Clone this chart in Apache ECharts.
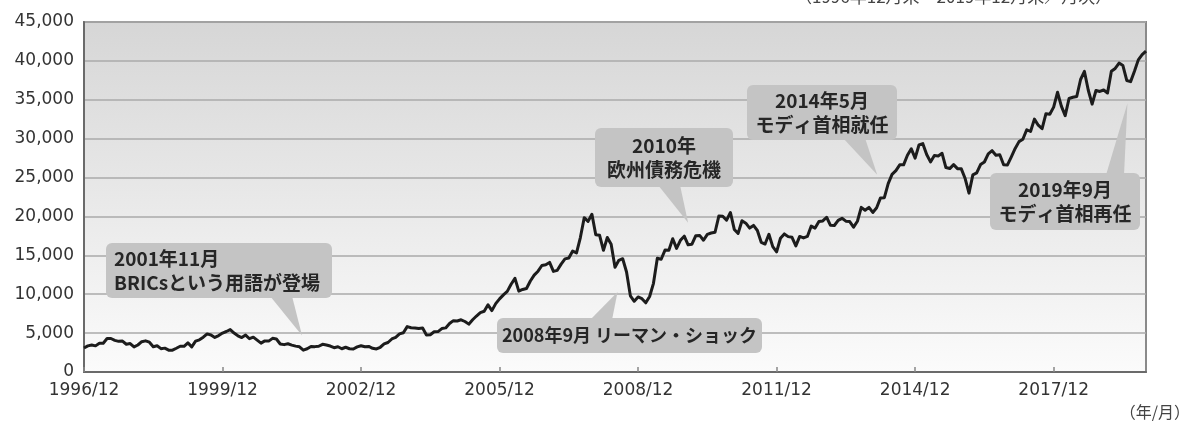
<!DOCTYPE html>
<html>
<head>
<meta charset="utf-8">
<script src="https://cdn.jsdelivr.net/npm/echarts@6/dist/echarts.min.js"></script>
<style>
html,body{margin:0;padding:0;background:#fff;}
#c{width:1193px;height:424px;}
</style>
</head>
<body>
<div id="c"></div>
<script>
// ---- Data (SENSEX month-end) ----
const startYear = 1996, startMonth = 12, endYear = 2019, endMonth = 12;
const v1996 = [3085];
const v1997 = [3361, 3469, 3361, 3704, 3698, 4300, 4306, 4069, 3942, 3980, 3567, 3659];
const v1998 = [3224, 3473, 3893, 4006, 3832, 3251, 3364, 3003, 3069, 2812, 2810, 3055];
const v1999 = [3315, 3299, 3740, 3234, 3962, 4141, 4470, 4898, 4764, 4444, 4681, 5006];
const v2000 = [5206, 5447, 5001, 4657, 4433, 4748, 4278, 4477, 4091, 3711, 3998, 3972];
const v2001 = [4327, 4247, 3604, 3519, 3632, 3457, 3329, 3245, 2812, 2990, 3287, 3262];
const v2002 = [3311, 3562, 3469, 3338, 3126, 3245, 2988, 3181, 2991, 2950, 3229, 3377];
const v2003 = [3250, 3283, 3049, 2960, 3181, 3607, 3792, 4245, 4453, 4906, 5044, 5839];
const v2004 = [5696, 5667, 5591, 5655, 4760, 4795, 5170, 5192, 5584, 5672, 6234, 6603];
const v2005 = [6556, 6713, 6493, 6154, 6715, 7194, 7635, 7806, 8634, 7892, 8789, 9398];
const v2006 = [9920, 10370, 11280, 12043, 10399, 10609, 10744, 11699, 12454, 12962, 13696, 13787];
const v2007 = [14091, 12938, 13072, 13872, 14544, 14651, 15551, 15319, 17291, 19838, 19363, 20287];
const v2008 = [17649, 17579, 15644, 17287, 16416, 13462, 14356, 14565, 12860, 9788, 9093, 9647];
const v2009 = [9424, 8892, 9709, 11403, 14625, 14494, 15670, 15667, 17127, 15896, 16926, 17465];
const v2010 = [16358, 16430, 17528, 17559, 16945, 17701, 17868, 17971, 20069, 20032, 19521, 20509];
const v2011 = [18328, 17823, 19445, 19136, 18503, 18846, 18197, 16677, 16454, 17705, 16123, 15455];
const v2012 = [17194, 17753, 17404, 17319, 16219, 17430, 17236, 17430, 18763, 18505, 19340, 19427];
const v2013 = [19895, 18862, 18836, 19504, 19760, 19396, 19346, 18620, 19380, 21165, 20792, 21171];
const v2014 = [20514, 21120, 22386, 22418, 24217, 25414, 25895, 26638, 26631, 27866, 28694, 27499];
const v2015 = [29183, 29362, 27957, 27011, 27828, 27781, 28115, 26283, 26155, 26657, 26146, 26118];
const v2016 = [24871, 23002, 25342, 25607, 26668, 26999, 28052, 28452, 27866, 27930, 26653, 26626];
const v2017 = [27656, 28743, 29621, 29918, 31146, 30922, 32515, 31730, 31284, 33213, 33149, 34057];
const v2018 = [35965, 34184, 32969, 35160, 35322, 35423, 37607, 38645, 36227, 34442, 36194, 36068];
const v2019 = [36257, 35867, 38673, 39032, 39714, 39395, 37481, 37333, 38667, 40129, 40794, 41254];

const yTicks = [0, 5000, 10000, 15000, 20000, 25000, 30000, 35000, 40000, 45000];
const xTickLabels = ['1996/12', '1999/12', '2002/12', '2005/12', '2008/12', '2011/12', '2014/12', '2017/12'];

const annLabels = ['2001年11月\nBRICsという用語が登場', '2008年9月 リーマン・ショック', '2010年\n欧州債務危機', '2014年5月\nモディ首相就任', '2019年9月\nモディ首相再任'];
const annDates = ['2001/11', '2008/9', '2010/1', '2014/5', '2019/9'];

const subTitle = '（1996年12月末～2019年12月末／月次）';
const xUnit = '（年/月）';

// ---- Build categories ----
const values = [].concat(v1996, v1997, v1998, v1999, v2000, v2001, v2002, v2003, v2004, v2005,
  v2006, v2007, v2008, v2009, v2010, v2011, v2012, v2013, v2014, v2015, v2016, v2017, v2018, v2019);
const categories = [];
{
  let y = startYear, m = startMonth;
  while (y < endYear || (y === endYear && m <= endMonth)) {
    categories.push(y + '/' + m);
    m++; if (m > 12) { m = 1; y++; }
  }
}

// ---- Layout for callouts (pixel layout, not data) ----
const annLayout = [
  {box: [106, 243, 226, 55], align: 'left', side: 'bottom', base: [270, 292], off: [-9, -11], fs: 19},
  {box: [497, 318, 265, 35], align: 'center', side: 'top', base: [590, 612], off: [-9, 20], fs: 18},
  {box: [595, 128, 138, 59], align: 'center', side: 'bottom', base: [658, 680], off: [0, -22], fs: 19},
  {box: [747, 85, 150, 55], align: 'center', side: 'bottom', base: [843, 865], off: [-11, -9], fs: 19},
  {box: [990, 173, 150, 57], align: 'center', side: 'top', base: [1106, 1124], off: [-7, 32], fs: 19}
];

const FONT_AX = 'DejaVu Sans';
const FONT_JP = 'Noto Sans CJK JP';

const chart = echarts.init(document.getElementById('c'), null, {renderer: 'canvas'});

const option = {
  animation: false,
  backgroundColor: '#ffffff',
  grid: {
    left: 84, right: 47, top: 22, bottom: 52,
    show: true,
    backgroundColor: {
      type: 'linear', x: 0, y: 0, x2: 0, y2: 1,
      colorStops: [{offset: 0, color: '#d6d6d6'}, {offset: 1, color: '#fbfbfb'}]
    },
    borderColor: '#8a8a8a',
    borderWidth: 2
  },
  xAxis: {
    type: 'category',
    data: categories,
    boundaryGap: false,
    axisLine: {show: true, lineStyle: {color: '#6a6a6a', width: 2}},
    axisTick: {
      show: true, inside: true, length: 5,
      interval: (i, v) => xTickLabels.indexOf(v) >= 0,
      lineStyle: {color: '#888', width: 1.5}
    },
    axisLabel: {
      interval: (i, v) => xTickLabels.indexOf(v) >= 0,
      color: '#333', fontFamily: FONT_AX, fontSize: 17, margin: 10
    },
    splitLine: {show: false}
  },
  yAxis: {
    type: 'value',
    min: yTicks[0], max: yTicks[yTicks.length - 1], interval: 5000,
    axisLine: {show: true, lineStyle: {color: '#6a6a6a', width: 2}},
    axisTick: {show: false},
    axisLabel: {
      color: '#333', fontFamily: FONT_AX, fontSize: 17, margin: 10,
      formatter: v => v.toLocaleString('en-US')
    },
    splitLine: {show: true, lineStyle: {color: '#aaaaaa', width: 1.5}}
  },
  series: [{
    type: 'line',
    data: values,
    showSymbol: false,
    symbol: 'none',
    lineStyle: {color: '#1c1c1c', width: 3, join: 'round'},
    z: 5
  }]
};
chart.setOption(option);

// ---- Callouts & texts via graphic ----
const graphics = [];
annLabels.forEach((txt, k) => {
  const L = annLayout[k];
  const idx = categories.indexOf(annDates[k]);
  const p = chart.convertToPixel({seriesIndex: 0}, [idx, values[idx]]);
  const tip = [p[0] + L.off[0], p[1] + L.off[1]];
  const [bx, by, bw, bh] = L.box;
  const edgeY = L.side === 'bottom' ? by + bh - 2 : by + 2;
  graphics.push({
    type: 'polygon', z: 10,
    shape: {points: [[L.base[0], edgeY], [L.base[1], edgeY], tip]},
    style: {fill: '#c4c4c4'}
  });
  graphics.push({
    type: 'rect', z: 10,
    shape: {x: bx, y: by, width: bw, height: bh, r: 6},
    style: {fill: '#c4c4c4'}
  });
  graphics.push({
    type: 'text', z: 11,
    x: L.align === 'left' ? bx + 8 : bx + bw / 2,
    y: by + bh / 2,
    style: {
      text: txt, fill: '#262626', font: 'bold ' + L.fs + 'px "' + FONT_JP + '"',
      align: L.align, verticalAlign: 'middle', lineHeight: 24
    }
  });
});
graphics.push({
  type: 'text', z: 11, x: 795, y: -12,
  style: {text: subTitle, fill: '#444', font: '17px "' + FONT_JP + '"', align: 'left', verticalAlign: 'top'}
});
graphics.push({
  type: 'text', z: 11, x: 1190, y: 412,
  style: {text: xUnit, fill: '#444', font: '16px "' + FONT_JP + '"', align: 'right', verticalAlign: 'middle'}
});
chart.setOption({graphic: graphics});
</script>
</body>
</html>
